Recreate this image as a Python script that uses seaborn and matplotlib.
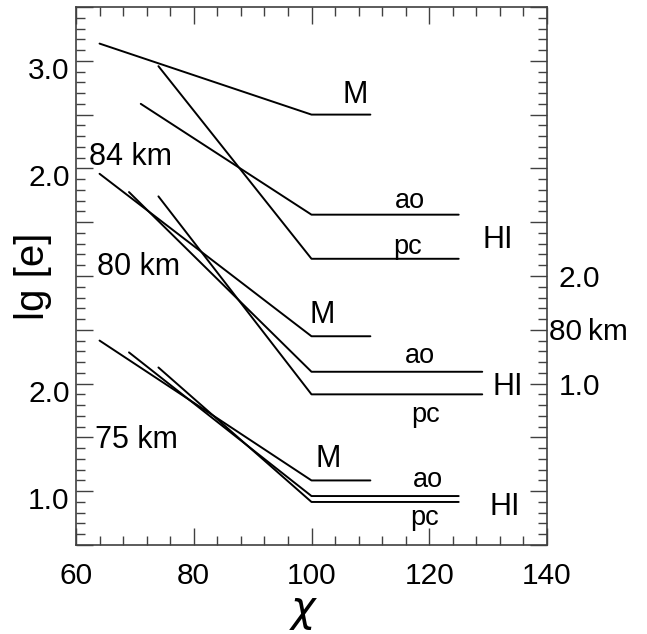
import matplotlib
matplotlib.use("Agg")
import matplotlib.pyplot as plt
import matplotlib.transforms as mtransforms
from matplotlib.ticker import MultipleLocator, FuncFormatter
import pandas as pd
import seaborn as sns

# Electron density profiles lg[e] versus solar zenith angle chi for three heights,
# stacked on one axis (each height shifted by a whole number of decades).
heights = ["84 km", "80 km", "75 km"]
panel_shift = [2.0, 1.0, 0.0]
models = ["M", "ao", "pc"]
chi_knee = 100.0
chi_start = [[64, 71, 74], [64, 69, 74], [64, 69, 74]]
chi_end = [[110, 125, 125], [110, 129, 129], [110, 125, 125]]
lg_start = [[3.16, 2.60, 2.95], [2.95, 2.78, 2.74], [2.40, 2.29, 2.15]]
lg_floor = [[2.50, 1.57, 1.16], [1.44, 1.11, 0.90], [1.10, 0.955, 0.90]]

# scale labels: values of lg[e] shown for each height
left_scale = {"84 km": [2.0, 3.0], "75 km": [1.0, 2.0]}
right_scale = {"80 km": [1.0, 2.0]}

rows = []
for i, h in enumerate(heights):
    for j, m in enumerate(models):
        xs = [chi_start[i][j], chi_knee, chi_end[i][j]]
        ys = [lg_start[i][j], lg_floor[i][j], lg_floor[i][j]]
        for k, (x, y) in enumerate(zip(xs, ys)):
            rows.append(dict(curve=f"{h} {m}", order=k, chi=x,
                             lg=y + panel_shift[i]))
df = pd.DataFrame(rows)
shift = dict(zip(heights, panel_shift))

sns.set_theme(style="ticks")
plt.rcParams["font.family"] = ["Liberation Sans", "DejaVu Sans"]
plt.rcParams["text.color"] = "black"
plt.rcParams["axes.labelcolor"] = "black"
plt.rcParams["xtick.labelcolor"] = "black"
plt.rcParams["ytick.labelcolor"] = "black"

fig = plt.figure(figsize=(6.47, 6.34), dpi=100)
ax = fig.add_axes([76 / 647, 89 / 634, 471 / 647, 538 / 634])

sns.lineplot(data=df, x="chi", y="lg", units="curve", estimator=None,
             sort=False, color="black", linewidth=1.4, ax=ax, legend=False)

ax.set_xlim(60, 140)
ax.set_ylim(0.5, 5.5)

axis_grey = "#404040"
for sp in ax.spines.values():
    sp.set_visible(True)
    sp.set_color(axis_grey)
    sp.set_linewidth(1.2)

ax.xaxis.set_major_locator(MultipleLocator(20))
ax.xaxis.set_minor_locator(MultipleLocator(4))
ax.yaxis.set_major_locator(MultipleLocator(0.5))
ax.yaxis.set_minor_locator(MultipleLocator(0.1))
ax.tick_params(which="both", direction="in", top=True, right=True,
               color=axis_grey, width=1.0, labelcolor="black")
ax.tick_params(which="major", length=12)
ax.tick_params(which="minor", length=6.5)
ax.tick_params(axis="x", which="major", labelsize=21.5, pad=12.5)
ax.tick_params(axis="y", which="major", labelsize=21.5, pad=4.5)

left_labels = {}
for h, vals in left_scale.items():
    for v in vals:
        left_labels[round(v + shift[h], 2)] = f"{v:.1f}"
ax.yaxis.set_major_formatter(
    FuncFormatter(lambda val, pos: left_labels.get(round(val, 2), "")))

# left scale numbers sit a little below their ticks
fig.canvas.draw()
down = mtransforms.ScaledTranslation(0, -7 / 100, fig.dpi_scale_trans)
for tick in ax.yaxis.get_major_ticks():
    tick.label1.set_transform(tick.label1.get_transform() + down)

# right scale for the 80 km profiles
for h, vals in right_scale.items():
    for v in vals:
        ax.text(142.0, v + shift[h] - 0.102, f"{v:.1f}", fontsize=21.5,
                ha="left", va="baseline", clip_on=False)
    ax.text(140.3, 2.405, h.replace(" ", "\u2009"), fontsize=21.5,
            ha="left", va="baseline", clip_on=False)

# height labels
for txt, x, y in [("84 km", 62.2, 4.032), ("80 km", 63.5, 3.009),
                  ("75 km", 63.2, 1.401)]:
    ax.text(x, y, txt, fontsize=22, ha="left", va="baseline")

# curve labels
curve_labels = [
    ("M", 105.2, 4.608, 22), ("ao", 114.2, 3.632, 19.5),
    ("pc", 113.8, 3.204, 19.5), ("HI", 129.0, 3.26, 22),
    ("M", 99.7, 2.563, 22), ("ao", 115.9, 2.191, 19.5),
    ("pc", 117.0, 1.643, 19.5), ("HI", 130.8, 1.894, 22),
    ("M", 100.6, 1.225, 22), ("ao", 117.3, 1.039, 19.5),
    ("pc", 116.7, 0.686, 19.5), ("HI", 130.3, 0.779, 22),
]
for txt, x, y, fs in curve_labels:
    ax.text(x, y, txt, fontsize=fs, ha="left", va="baseline")

ax.set_xlabel(r"$\chi$", fontsize=30)
ax.xaxis.set_label_coords(0.484, -0.088)
ax.set_ylabel("lg [e]", fontsize=29)
ax.yaxis.set_label_coords(-0.051, 0.5)

fig.savefig("out.png", dpi=100)
